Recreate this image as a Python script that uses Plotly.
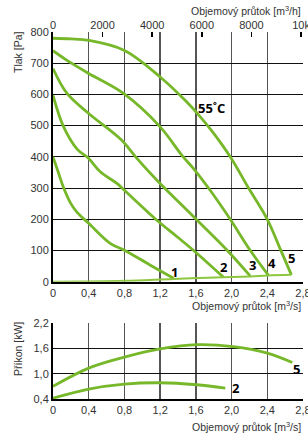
import plotly.graph_objects as go

# ---- data (x in m3/s) ----
c1_x = [0, 0.06, 0.12, 0.2, 0.27, 0.4, 0.64, 0.8, 1.09, 1.35]
c1_y = [400, 350, 300, 250, 222, 187, 123, 101, 53, 11]
c2_x = [0, 0.119, 0.27, 0.4, 0.53, 0.716, 0.8, 1.164, 1.39, 1.575, 1.91]
c2_y = [597, 496, 425, 395, 352, 315, 293, 197, 144, 100, 14]
c3_x = [0, 0.157, 0.4, 0.77, 0.925, 1.164, 1.575, 1.95, 2.21]
c3_y = [683, 603, 539, 453, 400, 325, 208, 101, 18]
c4_x = [0, 0.157, 0.4, 0.79, 1.2, 1.444, 1.59, 1.76, 1.985, 2.21, 2.414]
c4_y = [740, 709, 667, 603, 496, 405, 357, 293, 200, 100, 20]
c5_x = [0, 0.2, 0.4, 0.8, 1.2, 1.48, 1.65, 1.80, 1.985, 2.19, 2.40, 2.545, 2.67]
c5_y = [780, 778, 773, 741, 656, 581, 528, 475, 400, 300, 200, 105, 22]
base_x = [0, 0.8, 1.35, 1.91, 2.21, 2.41, 2.67]
base_y = [0, 3, 9, 14, 17, 20, 22]

p5_x = [0, 0.4, 0.8, 1.2, 1.61, 2.02, 2.4, 2.68]
p5_y = [0.70, 1.134, 1.395, 1.59, 1.693, 1.646, 1.49, 1.267]
p2_x = [0, 0.4, 0.8, 1.2, 1.61, 1.93]
p2_y = [0.42, 0.637, 0.755, 0.786, 0.739, 0.66]

x_ticks = [0, 0.4, 0.8, 1.2, 1.6, 2.0, 2.4, 2.8]
x_ticktext = ["0", "0,4", "0,8", "1,2", "1,6", "2,0", "2,4", "2,8"]
xh_ticks = [0, 2000, 4000, 6000, 8000, 10000]
yp_ticks = [0, 100, 200, 300, 400, 500, 600, 700, 800]
yk_ticks = [0.4, 1.0, 1.6, 2.2]
yk_ticktext = ["0,4", "1,0", "1,6", "2,2"]

GREEN = "#76b82a"
LIGHT = "#8dc63f"
W, H = 308, 438
ML, MR, MT, MB = 53, 5, 32, 39
PW, PH = W - ML - MR, H - MT - MB

def px(x):
    return (x - ML) / PW

def py(y):
    return (H - MB - y) / PH

fig = go.Figure()
for xs, ys in [(c1_x, c1_y), (c2_x, c2_y), (c3_x, c3_y), (c4_x, c4_y), (c5_x, c5_y)]:
    fig.add_trace(go.Scatter(x=xs, y=ys, mode="lines", line=dict(color=GREEN, width=2.8, shape="spline", smoothing=1),
                             xaxis="x", yaxis="y", hoverinfo="skip"))
fig.add_trace(go.Scatter(x=base_x, y=base_y, mode="lines", line=dict(color=LIGHT, width=2, shape="spline"),
                         xaxis="x", yaxis="y", hoverinfo="skip"))
for xs, ys in [(p5_x, p5_y), (p2_x, p2_y)]:
    fig.add_trace(go.Scatter(x=xs, y=ys, mode="lines", line=dict(color=GREEN, width=2.8, shape="spline"),
                             xaxis="x2", yaxis="y2", hoverinfo="skip"))
# dummy trace for top axis
fig.add_trace(go.Scatter(x=[0], y=[0], mode="markers", marker=dict(opacity=0), xaxis="x3", yaxis="y",
                         hoverinfo="skip"))

tickfont = dict(family="Liberation Sans, Arial", size=11, color="#333")
vgrid = dict(showgrid=True, gridcolor="#555", gridwidth=1.5)
top_dom = [py(281.7), 1]
bot_dom = [0, py(323.3)]

fig.update_layout(
    width=W, height=H, margin=dict(l=ML, r=MR, t=MT, b=MB, autoexpand=False),
    paper_bgcolor="white", plot_bgcolor="white", showlegend=False,
    xaxis=dict(domain=[0, 1], anchor="y", range=[0, 2.8], tickvals=x_ticks, ticktext=x_ticktext,
               tickfont=tickfont, showline=True, linecolor="black", linewidth=2, zeroline=False,
               ticks="", automargin=False, ticklabeloverflow="allow", **vgrid),
    yaxis=dict(domain=top_dom, anchor="x", range=[0, 800], tickvals=yp_ticks, tickfont=tickfont,
               showline=True, linecolor="black", linewidth=2, zeroline=False, ticks="", automargin=False,
               showgrid=True, gridcolor="#111", gridwidth=1),
    xaxis3=dict(overlaying="x", side="top", anchor="y", range=[0, 2.8 * 3600], tickvals=xh_ticks,
                tickfont=tickfont, ticks="inside", ticklen=5, tickcolor="black", tickwidth=1.5,
                showgrid=False, zeroline=False, showline=False, automargin=False, ticklabeloverflow="allow"),
    xaxis2=dict(domain=[0, 1], anchor="y2", range=[0, 2.8], tickvals=x_ticks, ticktext=x_ticktext,
                tickfont=tickfont, showline=True, linecolor="black", linewidth=2, zeroline=False,
                ticks="", automargin=False, ticklabeloverflow="allow", **vgrid),
    yaxis2=dict(domain=bot_dom, anchor="x2", range=[0.4, 2.2], tickvals=yk_ticks, ticktext=yk_ticktext,
                tickfont=tickfont, showline=True, linecolor="black", linewidth=2, zeroline=False,
                ticks="", automargin=False, showgrid=True, gridcolor="#111", gridwidth=1),
)

tfont = dict(family="Liberation Sans, Arial", size=10.5, color="#333")
ann = [
    dict(text="Objemový průtok [m<sup>3</sup>/h]", x=px(303), y=py(10), xanchor="right", yanchor="middle"),
    dict(text="Objemový průtok [m<sup>3</sup>/s]", x=px(303), y=py(306), xanchor="right", yanchor="middle"),
    dict(text="Objemový průtok [m<sup>3</sup>/s]", x=px(303), y=py(426), xanchor="right", yanchor="middle"),
    dict(text="Tlak [Pa]", x=px(18), y=py(52), xanchor="center", yanchor="middle", textangle=-90),
    dict(text="Příkon [kW]", x=px(18), y=py(349), xanchor="center", yanchor="middle", textangle=-90),
]
for a in ann:
    fig.add_annotation(xref="paper", yref="paper", showarrow=False, font=tfont, **a)

bfont = dict(family="Open Sans, DejaVu Sans", size=13, color="black")
labels_top = [("1", 1.358, 32), ("2", 1.91, 46), ("3", 2.235, 53), ("4", 2.45, 61), ("5", 2.67, 75),
              ("55˚C", 1.78, 557)]
for t, x, y in labels_top:
    fig.add_annotation(text="<b>" + t + "</b>", x=x, y=y, xref="x", yref="y", showarrow=False, font=bfont)
for t, x, y in [("2", 2.05, 0.66), ("5", 2.73, 1.11)]:
    fig.add_annotation(text="<b>" + t + "</b>", x=x, y=y, xref="x2", yref="y2", showarrow=False, font=bfont)

fig.write_html("out.html", config={"displayModeBar": False, "staticPlot": True},
               post_script="document.body.style.margin='0';document.body.style.overflow='hidden';")
